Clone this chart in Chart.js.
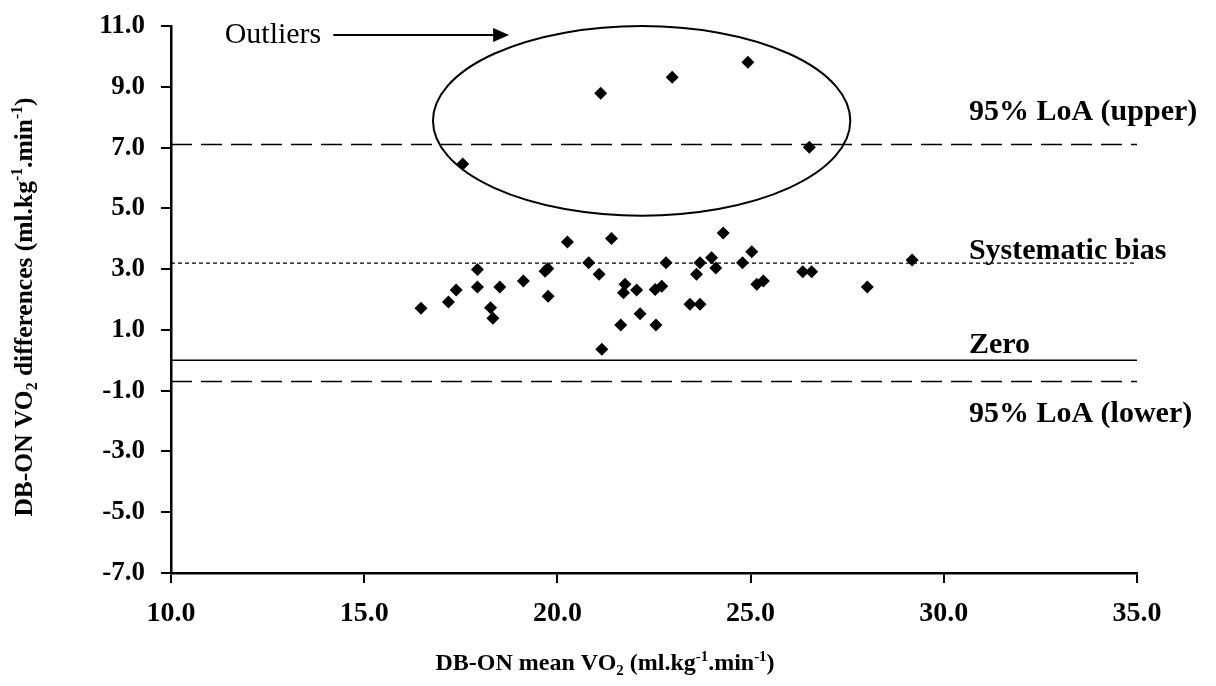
<!DOCTYPE html>
<html>
<head>
<meta charset="utf-8">
<script src="https://cdn.jsdelivr.net/npm/chart.js@4.4.0/dist/chart.umd.min.js"></script>
<style>
    html, body { margin: 0; padding: 0; background: #fff; }
    #wrap { width: 1216px; height: 686px; }
</style>
</head>
<body>
<div id="wrap"><canvas id="baChart" width="1216" height="686"></canvas></div>
<script>
/* Bland-Altman: DB-ON mean VO2 vs DB-ON VO2 differences */

var meanVO2 = [16.47, 17.18, 17.38, 17.93, 17.93, 18.51, 18.27, 18.33, 19.12, 19.68,
               19.75, 19.76, 20.26, 20.81, 21.08, 21.40, 21.75, 21.71, 22.05, 22.53,
               22.70, 22.14, 21.64, 22.55, 21.15, 22.81, 23.60, 23.69, 23.43, 23.69,
               23.99, 24.10, 24.29, 24.79, 25.03, 25.16, 25.33, 26.35, 26.58, 28.02, 29.18];
var diffVO2 = [1.71, 1.92, 2.31, 2.99, 2.41, 2.41, 1.73, 1.38, 2.61, 2.93,
               3.02, 2.11, 3.89, 3.21, 2.83, 4.01, 2.50, 2.22, 2.31, 2.33,
               2.44, 1.53, 1.16, 1.16, 0.36, 3.21, 2.83, 3.21, 1.84, 1.84,
               3.37, 3.04, 4.19, 3.21, 3.57, 2.50, 2.61, 2.91, 2.91, 2.41, 3.30];

// points circled as outliers
var outlierMean = [17.55, 21.12, 22.97, 24.93, 26.52];
var outlierDiff = [6.46, 8.79, 9.31, 9.81, 7.01];

var bias = 3.2;
var loaUpper = 7.1;
var loaLower = -0.7;

var xMin = 10, xMax = 35, xStep = 5;
var yMin = -7, yMax = 11, yStep = 2;

// outlier ellipse and arrow, in data units
var ringCenter = [22.18, 7.88];
var ringRadius = [5.40, 3.12];
var arrowFrom = [14.2, 10.7];
var arrowTo = [18.75, 10.7];
var labelX = 30.65;

var FONT = "'Liberation Serif', 'Times New Roman', serif";

var points = [];
meanVO2.forEach(function(m, i) { points.push({ x: m, y: diffVO2[i] }); });
outlierMean.forEach(function(m, i) { points.push({ x: m, y: outlierDiff[i] }); });

function hLine(v) {
    return [{ x: xMin, y: v }, { x: xMax, y: v }];
}

// draws text with sub/superscript runs, centred on x
function drawRich(ctx, runs, x, y, size) {
    var total = 0;
    runs.forEach(function(r) {
        ctx.font = 'bold ' + (r[1] ? size * 0.62 : size) + 'px ' + FONT;
        total += ctx.measureText(r[0]).width;
    });
    var cx = x - total / 2;
    ctx.textAlign = 'left';
    ctx.textBaseline = 'alphabetic';
    runs.forEach(function(r) {
        ctx.font = 'bold ' + (r[1] ? size * 0.62 : size) + 'px ' + FONT;
        var dy = r[1] === 1 ? size * 0.2 : (r[1] === 2 ? -size * 0.38 : 0);
        ctx.fillText(r[0], cx, y + dy);
        cx += ctx.measureText(r[0]).width;
    });
}

var extras = {
    id: 'extras',
    afterDatasetsDraw: function(chart) {
        var ctx = chart.ctx;
        var xs = chart.scales.x, ys = chart.scales.y;
        ctx.save();
        ctx.fillStyle = '#000';
        ctx.strokeStyle = '#000';

        // ellipse
        var cx = xs.getPixelForValue(ringCenter[0]);
        var cy = ys.getPixelForValue(ringCenter[1]);
        var rx = xs.getPixelForValue(ringCenter[0] + ringRadius[0]) - cx;
        var ry = cy - ys.getPixelForValue(ringCenter[1] + ringRadius[1]);
        ctx.lineWidth = 2;
        ctx.beginPath();
        ctx.ellipse(cx, cy, rx, ry, 0, 0, Math.PI * 2);
        ctx.stroke();

        // arrow
        var ax0 = xs.getPixelForValue(arrowFrom[0]);
        var ax1 = xs.getPixelForValue(arrowTo[0]);
        var ay = ys.getPixelForValue(arrowFrom[1]);
        ctx.lineWidth = 2;
        ctx.beginPath();
        ctx.moveTo(ax0, ay);
        ctx.lineTo(ax1 - 12, ay);
        ctx.stroke();
        ctx.beginPath();
        ctx.moveTo(ax1, ay);
        ctx.lineTo(ax1 - 16, ay - 7);
        ctx.lineTo(ax1 - 16, ay + 7);
        ctx.closePath();
        ctx.fill();

        ctx.font = '30px ' + FONT;
        ctx.textAlign = 'right';
        ctx.textBaseline = 'middle';
        ctx.fillText('Outliers', ax0 - 12, ay);

        // line labels
        var lx = xs.getPixelForValue(labelX);
        ctx.font = 'bold 30px ' + FONT;
        ctx.textAlign = 'left';
        ctx.textBaseline = 'alphabetic';
        ctx.fillText('95% LoA (upper)', lx, ys.getPixelForValue(loaUpper) - 25);
        ctx.fillText('Systematic bias', lx, ys.getPixelForValue(bias) - 4);
        ctx.fillText('Zero', lx, ys.getPixelForValue(0) - 7);
        ctx.fillText('95% LoA (lower)', lx, ys.getPixelForValue(loaLower) + 40);

        // axis titles
        drawRich(ctx, [['DB-ON mean VO', 0], ['2', 1], [' (ml.kg', 0], ['-1', 2], ['.min', 0], ['-1', 2], [')', 0]],
                 (xs.left + xs.right) / 2 - 49, 670, 24);
        ctx.save();
        ctx.translate(32, 307);
        ctx.rotate(-Math.PI / 2);
        drawRich(ctx, [['DB-ON VO', 0], ['2', 1], [' differences (ml.kg', 0], ['-1', 2], ['.min', 0], ['-1', 2], [')', 0]],
                 0, 0, 25.5);
        ctx.restore();

        ctx.restore();
    }
};

var ctx = document.getElementById('baChart');

new Chart(ctx, {
    type: 'scatter',
    data: {
        datasets: [
            {
                label: '95% LoA (upper)',
                type: 'line',
                data: hLine(loaUpper),
                borderColor: '#000',
                borderWidth: 1.5,
                borderDash: [21, 9],
                pointRadius: 0
            },
            {
                label: 'Systematic bias',
                type: 'line',
                data: hLine(bias),
                borderColor: '#000',
                borderWidth: 1.3,
                borderDash: [4, 3],
                pointRadius: 0
            },
            {
                label: 'Zero',
                type: 'line',
                data: hLine(0),
                borderColor: '#000',
                borderWidth: 1.5,
                pointRadius: 0
            },
            {
                label: '95% LoA (lower)',
                type: 'line',
                data: hLine(loaLower),
                borderColor: '#000',
                borderWidth: 1.5,
                borderDash: [21, 9],
                pointRadius: 0
            },
            {
                label: 'Differences',
                data: points,
                pointStyle: 'rectRot',
                pointRadius: 6.5,
                pointHoverRadius: 6.5,
                backgroundColor: '#000',
                borderColor: '#000',
                borderWidth: 0
            }
        ]
    },
    options: {
        responsive: false,
        animation: false,
        devicePixelRatio: 1,
        layout: { padding: { top: 26, right: 79, left: 0, bottom: 0 } },
        plugins: {
            legend: { display: false },
            tooltip: { enabled: false }
        },
        scales: {
            x: {
                type: 'linear',
                min: xMin,
                max: xMax,
                afterFit: function(scale) {
                    scale.height = 113;
                    scale.paddingLeft = 0;
                    scale.paddingRight = 0;
                },
                grid: { drawOnChartArea: false, drawTicks: true, tickLength: 10, color: '#000', lineWidth: 2 },
                border: { color: '#000', width: 2.5 },
                ticks: {
                    stepSize: xStep,
                    color: '#000',
                    padding: 14,
                    maxRotation: 0,
                    font: { family: FONT, size: 28, weight: 'bold' },
                    callback: function(v) { return v.toFixed(1); }
                }
            },
            y: {
                type: 'linear',
                min: yMin,
                max: yMax,
                afterFit: function(scale) {
                    scale.width = 171;
                    scale.paddingTop = 0;
                    scale.paddingBottom = 0;
                },
                grid: { drawOnChartArea: false, drawTicks: true, tickLength: 10, color: '#000', lineWidth: 2 },
                border: { color: '#000', width: 2.5 },
                ticks: {
                    stepSize: yStep,
                    color: '#000',
                    padding: 16,
                    font: { family: FONT, size: 27, weight: 'bold' },
                    callback: function(v) { return v.toFixed(1); }
                }
            }
        }
    },
    plugins: [extras]
});
</script>
</body>
</html>
